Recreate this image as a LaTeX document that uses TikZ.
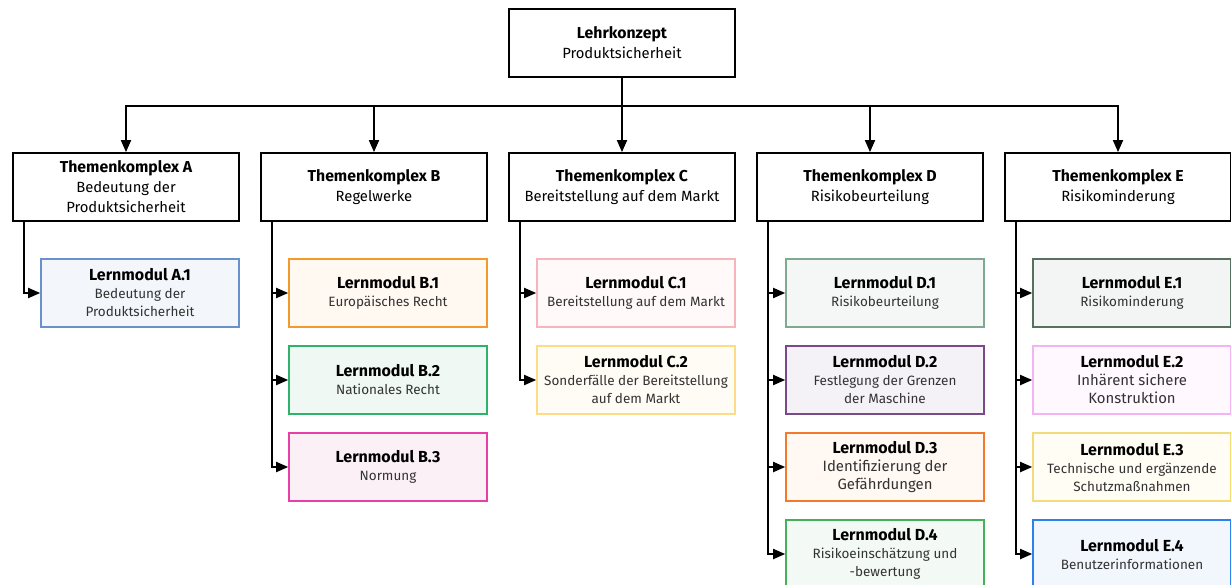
\documentclass[tikz,border=0pt]{standalone}
\usepackage{fontspec}
\setmainfont{Fira Sans}
\usetikzlibrary{arrows.meta, positioning}
\definecolor{lblue}{HTML}{6A91CC}
\definecolor{lbluef}{HTML}{F3F7FB}
\definecolor{lorange}{HTML}{F39A2C}
\definecolor{lorangef}{HTML}{FFF9F2}
\definecolor{lgreen}{HTML}{2DB36A}
\definecolor{lgreenf}{HTML}{EFF8F3}
\definecolor{lmagenta}{HTML}{E83FA6}
\definecolor{lmagentaf}{HTML}{FCF0F7}
\definecolor{lpink}{HTML}{F6B5BA}
\definecolor{lpinkf}{HTML}{FFF9F9}
\definecolor{lyellow}{HTML}{FDDC85}
\definecolor{lyellowf}{HTML}{FFFCF5}
\definecolor{lsage}{HTML}{7FA990}
\definecolor{lsagef}{HTML}{F5F7F6}
\definecolor{lpurple}{HTML}{7A4A88}
\definecolor{lpurplef}{HTML}{F5F2F7}
\definecolor{ldorange}{HTML}{F27A2A}
\definecolor{ldorangef}{HTML}{FFF8F3}
\definecolor{lmgreen}{HTML}{45B05A}
\definecolor{lmgreenf}{HTML}{F3F9F4}
\definecolor{lslate}{HTML}{57705F}
\definecolor{lslatef}{HTML}{F2F5F3}
\definecolor{lviolet}{HTML}{F2B5F2}
\definecolor{lvioletf}{HTML}{FFF8FF}
\definecolor{lsand}{HTML}{F2DB7C}
\definecolor{lsandf}{HTML}{FFFDF4}
\definecolor{lsky}{HTML}{2F80ED}
\definecolor{lskyf}{HTML}{F2F6FD}
\definecolor{subgray}{HTML}{333333}
\newcommand{\ttl}[1]{{\fontsize{7.9}{10}\selectfont\bfseries #1}}
\newcommand{\modttl}[1]{{\fontsize{8}{9}\selectfont\bfseries #1}}
\newcommand{\subtxt}{\fontsize{6.75}{9}\selectfont\color{subgray}}
\newcommand{\subbig}{\fontsize{7.45}{9.5}\selectfont\color{subgray}}
\tikzset{
  topbox/.style={draw=black, fill=white, line width=0.9pt, minimum width=113pt,
                 minimum height=34pt, align=center, inner sep=2pt,
                 font=\fontsize{7.4}{10}\selectfont},
  modbox/.style={line width=0.8pt, minimum width=99pt, minimum height=34pt,
                 align=center, inner sep=2pt, font=\fontsize{7.2}{9}\selectfont},
  arr/.style={-{Triangle[length=6pt, width=5pt]}, line width=0.9pt, black},
}

\begin{document}
\begin{tikzpicture}[x=0.5pt, y=-0.5pt]
  \useasboundingbox (0,0) rectangle (1231,584);

  % Wurzel: Lehrkonzept
  \node[topbox] (root) at (622,43)
    {\ttl{Lehrkonzept}\\Produktsicherheit};

  % Themenkomplexe
  \node[topbox] (thA) at (126,187)
    {\ttl{Themenkomplex A}\\Bedeutung der\\Produktsicherheit};
  \node[topbox] (thB) at (374,187)
    {\ttl{Themenkomplex B}\\Regelwerke};
  \node[topbox] (thC) at (622,187)
    {\ttl{Themenkomplex C}\\Bereitstellung auf dem Markt};
  \node[topbox] (thD) at (870,187)
    {\ttl{Themenkomplex D}\\Risikobeurteilung};
  \node[topbox] (thE) at (1118,187)
    {\ttl{Themenkomplex E}\\Risikominderung};

  % Wurzel -> Themenkomplexe
  \foreach \t in {thA,thB,thC,thD,thE}
    \draw[arr] (root.south) -- ++(0,28) -| (\t.north);

  % Lernmodule A
  \node[modbox, draw=lblue, fill=lbluef] (mA1) at (140,293)
    {\modttl{Lernmodul A.1}\\\subtxt Bedeutung der\\\subtxt Produktsicherheit};

  % Lernmodule B
  \node[modbox, draw=lorange, fill=lorangef] (mB1) at (388,293)
    {\modttl{Lernmodul B.1}\\\subtxt Europäisches Recht};
  \node[modbox, draw=lgreen, fill=lgreenf] (mB2) at (388,380)
    {\modttl{Lernmodul B.2}\\\subtxt Nationales Recht};
  \node[modbox, draw=lmagenta, fill=lmagentaf] (mB3) at (388,467)
    {\modttl{Lernmodul B.3}\\\subtxt Normung};

  % Lernmodule C
  \node[modbox, draw=lpink, fill=lpinkf] (mC1) at (636,293)
    {\modttl{Lernmodul C.1}\\\subtxt Bereitstellung auf dem Markt};
  \node[modbox, draw=lyellow, fill=lyellowf] (mC2) at (636,380)
    {\modttl{Lernmodul C.2}\\\subtxt Sonderfälle der Bereitstellung\\\subtxt auf dem Markt};

  % Lernmodule D
  \node[modbox, draw=lsage, fill=lsagef] (mD1) at (885,293)
    {\modttl{Lernmodul D.1}\\\subtxt Risikobeurteilung};
  \node[modbox, draw=lpurple, fill=lpurplef] (mD2) at (885,380)
    {\modttl{Lernmodul D.2}\\\subtxt Festlegung der Grenzen\\\subtxt der Maschine};
  \node[modbox, draw=ldorange, fill=ldorangef] (mD3) at (885,467)
    {\modttl{Lernmodul D.3}\\\subbig Identifizierung der\\\subbig Gefährdungen};
  \node[modbox, draw=lmgreen, fill=lmgreenf] (mD4) at (885,554)
    {\modttl{Lernmodul D.4}\\\subtxt Risikoeinschätzung und\\\subtxt -bewertung};

  % Lernmodule E
  \node[modbox, draw=lslate, fill=lslatef] (mE1) at (1132,293)
    {\modttl{Lernmodul E.1}\\\subtxt Risikominderung};
  \node[modbox, draw=lviolet, fill=lvioletf] (mE2) at (1132,380)
    {\modttl{Lernmodul E.2}\\\subbig Inhärent sichere\\\subbig Konstruktion};
  \node[modbox, draw=lsand, fill=lsandf] (mE3) at (1132,467)
    {\modttl{Lernmodul E.3}\\\subtxt Technische und ergänzende\\\subtxt Schutzmaßnahmen};
  \node[modbox, draw=lsky, fill=lskyf] (mE4) at (1132,554)
    {\modttl{Lernmodul E.4}\\\subtxt Benutzerinformationen};

  % Themenkomplexe -> Lernmodule
  \draw[arr] ([xshift=6pt]thA.south west) |- (mA1.west);
  \foreach \m in {mB1,mB2,mB3}
    \draw[arr] ([xshift=6pt]thB.south west) |- (\m.west);
  \foreach \m in {mC1,mC2}
    \draw[arr] ([xshift=6pt]thC.south west) |- (\m.west);
  \foreach \m in {mD1,mD2,mD3,mD4}
    \draw[arr] ([xshift=6pt]thD.south west) |- (\m.west);
  \foreach \m in {mE1,mE2,mE3,mE4}
    \draw[arr] ([xshift=6pt]thE.south west) |- (\m.west);

\end{tikzpicture}
\end{document}
